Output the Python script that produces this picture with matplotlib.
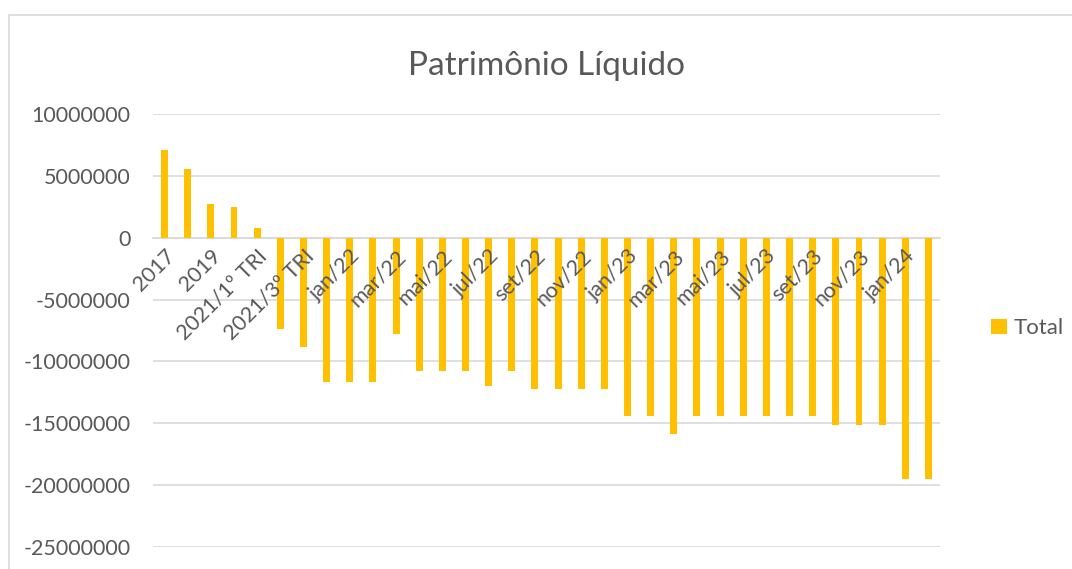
import numpy as np
import matplotlib.pyplot as plt
from matplotlib.patches import Rectangle

# dados do grafico
categorias = ['2017', '2018', '2019', '2020', '2021/1º TRI', '2021/2º TRI',
              '2021/3º TRI', '2021/4º TRI',
              'jan/22', 'fev/22', 'mar/22', 'abr/22', 'mai/22', 'jun/22',
              'jul/22', 'ago/22', 'set/22', 'out/22', 'nov/22', 'dez/22',
              'jan/23', 'fev/23', 'mar/23', 'abr/23', 'mai/23', 'jun/23',
              'jul/23', 'ago/23', 'set/23', 'out/23', 'nov/23', 'dez/23',
              'jan/24', 'fev/24']
total = [7050000, 5570000, 2700000, 2490000, 760000, -7400000,
         -8860000, -11680000,
         -11680000, -11680000, -7800000, -10780000, -10780000, -10780000,
         -11950000, -10780000, -12200000, -12200000, -12200000, -12200000,
         -14380000, -14380000, -15900000, -14380000, -14380000, -14380000,
         -14380000, -14380000, -14380000, -15160000, -15160000, -15160000,
         -19500000, -19500000]

cinza = '#595959'
grade = '#d9d9d9'
ouro = '#ffc000'

plt.rcParams['font.family'] = ['Lato', 'DejaVu Sans']

fig = plt.figure(figsize=(10.72, 5.69), dpi=100)
# borda do grafico
fig.patches.append(Rectangle((8.5 / 1072, -0.1), 1.2, 1.1 - 15.5 / 569,
                             transform=fig.transFigure, fill=False,
                             edgecolor=grade, lw=1.2))

ax = fig.add_axes([153 / 1072, 22 / 569, 787 / 1072, 433 / 569])
x = np.arange(len(categorias))
ax.bar(x, total, width=0.3, color=ouro, label='Total', zorder=2)

ax.set_xlim(-0.5, len(categorias) - 0.5)
ax.set_ylim(-25000000, 10000000)
ax.set_yticks(np.arange(-25000000, 10000001, 5000000))
ax.set_yticklabels([str(v) for v in range(-25000000, 10000001, 5000000)],
                   fontsize=15.5, color=cinza)
ax.yaxis.grid(True, color=grade, lw=1.2)
ax.set_axisbelow(True)
ax.tick_params(axis='y', length=0, pad=16)

# eixo x cruzando no zero, rotulos alternados (por cima das barras)
ax.spines['bottom'].set_position(('data', 0))
ax.spines['bottom'].set_color(grade)
ax.spines['bottom'].set_linewidth(1.2)
ax.spines['bottom'].set_zorder(1)
for s in ['top', 'right', 'left']:
    ax.spines[s].set_visible(False)
ax.set_xticks(x[::2])
ax.set_xticklabels(categorias[::2], rotation=45, ha='right', va='top',
                   rotation_mode='anchor', fontsize=15.5, color=cinza)
ax.tick_params(axis='x', length=0, pad=6)
ax.xaxis.set_zorder(4)

ax.set_title('Patrimônio Líquido', fontsize=24, color=cinza, pad=28)

ax.legend(loc='center left', bbox_to_anchor=(1.04, 0.505), frameon=False,
          fontsize=16, labelcolor=cinza, handlelength=0.7, handleheight=0.7,
          handletextpad=0.3)

plt.savefig('out.png', dpi=100)
